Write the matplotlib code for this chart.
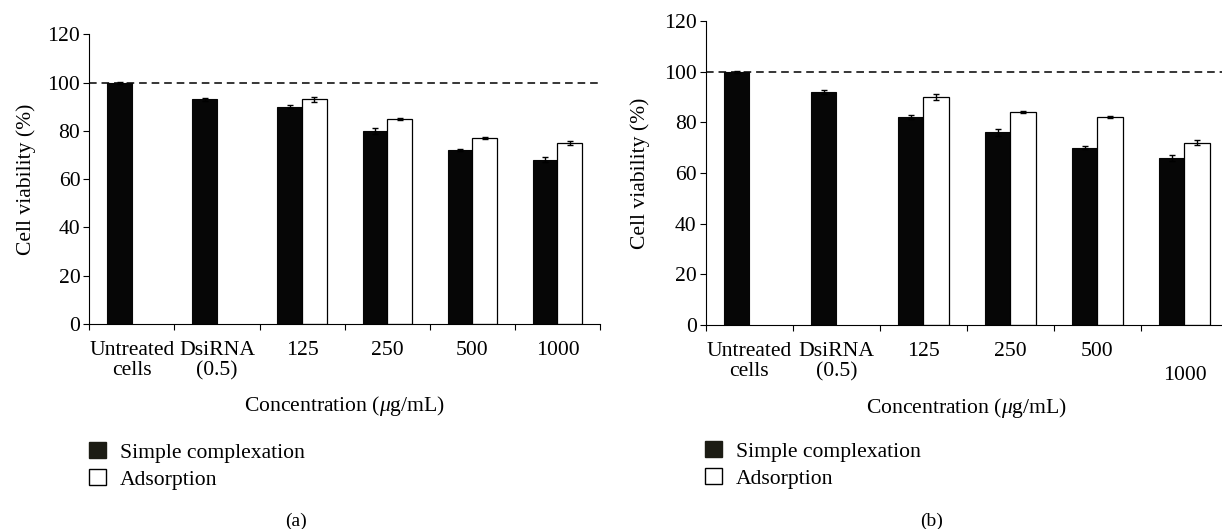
import matplotlib
matplotlib.use('Agg')
import matplotlib.pyplot as plt
from matplotlib.patches import Patch
import numpy as np

plt.rcParams['font.family'] = ['Liberation Serif', 'DejaVu Serif']
plt.rcParams['mathtext.fontset'] = 'custom'
plt.rcParams['mathtext.it'] = 'Liberation Serif:italic'
plt.rcParams['mathtext.rm'] = 'Liberation Serif'

categories_a = ["Untreated\ncells", "DsiRNA\n(0.5)", "125", "250", "500", "1000"]
categories_b = ["Untreated\ncells", "DsiRNA\n(0.5)", "125", "250", "500", "\n1000"]

# panel (a)
simple_a = [100, 93, 90, 80, 72, 68]
simple_a_err = [0.4, 0.8, 0.6, 1.2, 0.5, 1.0]
adsorp_a = [np.nan, np.nan, 93, 85, 77, 75]
adsorp_a_err = [0, 0, 1.2, 0.4, 0.4, 1.0]

# panel (b)
simple_b = [100, 92, 82, 76, 70, 66]
simple_b_err = [0.4, 0.8, 0.7, 1.2, 0.7, 1.2]
adsorp_b = [np.nan, np.nan, 90, 84, 82, 72]
adsorp_b_err = [0, 0, 1.2, 0.5, 0.4, 1.0]

yticks = [0, 20, 40, 60, 80, 100, 120]

FS = 15.6
BLACK = '#060606'

fig = plt.figure(figsize=(12.22, 5.29), dpi=100)


def draw_panel(rect, cats, simple, simple_err, adsorp, adsorp_err, xmax, ylab_x, xlab_y, legend_xy):
    ax = fig.add_axes(rect)
    n = len(cats)
    centers = np.arange(n) + 0.5
    w = 0.29

    ax.bar(centers - w / 2, simple, width=w, color=BLACK, edgecolor=BLACK, linewidth=0.8,
           yerr=simple_err, error_kw=dict(ecolor='black', elinewidth=1, capsize=2.5, capthick=1))
    ax.bar(centers + w / 2, adsorp, width=w, color='white', edgecolor='black', linewidth=0.9,
           yerr=adsorp_err, error_kw=dict(ecolor='black', elinewidth=1, capsize=2.5, capthick=1))

    ax.axhline(100, color='black', lw=1.1, linestyle=(0, (5, 3.2)), zorder=0.5)

    ax.set_xlim(0, xmax)
    ax.set_ylim(0, 120)
    ax.set_yticks(yticks)
    ax.set_xticks(np.arange(n + 1))
    ax.set_xticklabels([])
    ax.set_xticks(centers, minor=True)
    ax.set_xticklabels(cats, minor=True, fontsize=FS, linespacing=1.1)
    ax.tick_params(axis='x', which='minor', length=0, pad=12)
    ax.tick_params(axis='x', which='major', direction='out', length=4.5, width=0.8)
    ax.tick_params(axis='y', direction='out', length=4.5, width=0.8, pad=2, labelsize=FS)

    for s in ['top', 'right']:
        ax.spines[s].set_visible(False)
    for s in ['left', 'bottom']:
        ax.spines[s].set_linewidth(0.8)

    ax.set_ylabel('Cell viability (%)', fontsize=FS)
    ax.yaxis.set_label_coords(ylab_x, 0.5)
    ax.set_xlabel(r'Concentration ($\mathit{\mu}$g/mL)', fontsize=FS)
    ax.xaxis.set_label_coords(0.5, xlab_y)

    handles = [Patch(facecolor='#1c1c14', edgecolor='#1c1c14', label='Simple complexation'),
               Patch(facecolor='white', edgecolor='black', linewidth=1, label='Adsorption')]
    fig.legend(handles=handles, loc='upper left', bbox_to_anchor=legend_xy, frameon=False,
               fontsize=FS, handlelength=0.78, handleheight=0.78, handletextpad=0.65,
               labelspacing=0.3, borderpad=0, borderaxespad=0)
    return ax


W, H = 1222, 529

ax_a = draw_panel([89.3 / W, (H - 324) / H, (600 - 89.3) / W, (324 - 34.3) / H],
                  categories_a, simple_a, simple_a_err, adsorp_a, adsorp_a_err,
                  6, -0.105, -0.24, (89 / W, (H - 442) / H))

ax_b = draw_panel([705.7 / W, (H - 325) / H, (1228 - 705.7) / W, (325 - 21) / H],
                  categories_b, simple_b, simple_b_err, adsorp_b, adsorp_b_err,
                  6, -0.107, -0.235, (705 / W, (H - 441) / H))

# the last label of panel (b) sits a little lower than the others
ax_b.get_xticklabels(minor=True)[-1].set_linespacing(1.35)

fig.text(296 / W, 1 - 521 / H, '(a)', ha='center', va='center', fontsize=14)
fig.text(932 / W, 1 - 521 / H, '(b)', ha='center', va='center', fontsize=14)

fig.savefig('out.png', dpi=100, facecolor='white')
